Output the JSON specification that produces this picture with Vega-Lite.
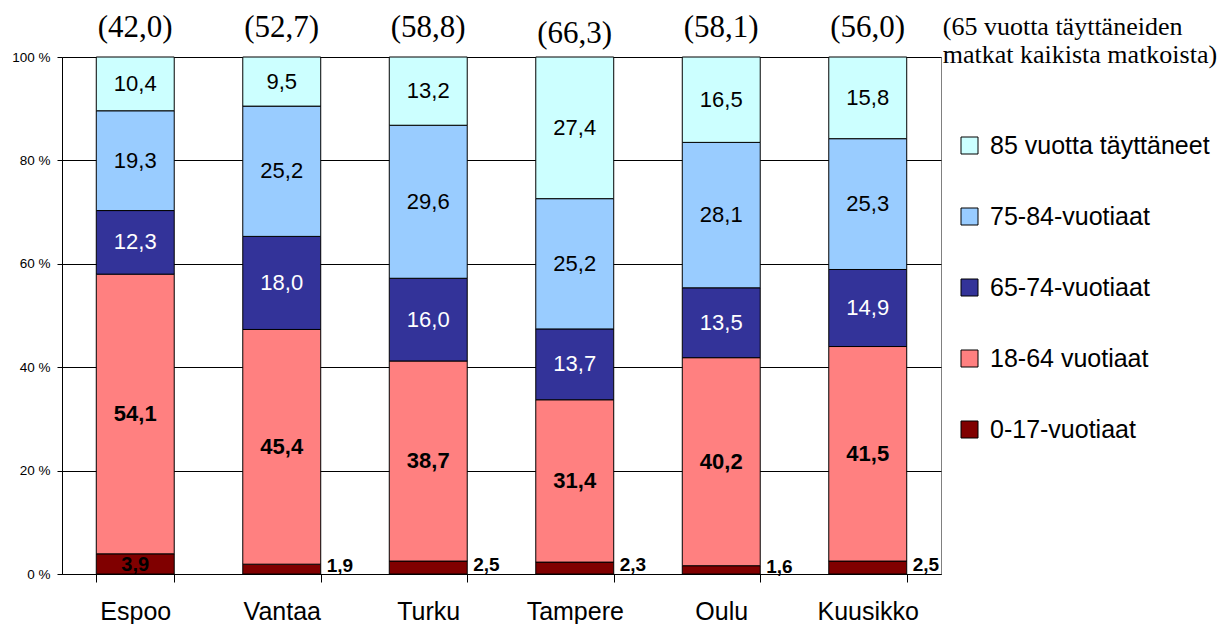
{
  "$schema": "https://vega.github.io/schema/vega-lite/v6.json",
  "width": 879,
  "height": 517,
  "autosize": {"type": "none"},
  "padding": {"left": 62, "top": 57, "right": 288, "bottom": 50},
  "background": "white",
  "config": {
    "view": {"stroke": "#808080", "strokeWidth": 1},
    "font": "Liberation Sans"
  },
  "datasets": {
    "shares": [
      {"city": "Espoo", "group": "0-17-vuotiaat", "ord": 1, "pct": 3.9},
      {"city": "Espoo", "group": "18-64 vuotiaat", "ord": 2, "pct": 54.1},
      {"city": "Espoo", "group": "65-74-vuotiaat", "ord": 3, "pct": 12.3},
      {"city": "Espoo", "group": "75-84-vuotiaat", "ord": 4, "pct": 19.3},
      {"city": "Espoo", "group": "85 vuotta täyttäneet", "ord": 5, "pct": 10.4},
      {"city": "Vantaa", "group": "0-17-vuotiaat", "ord": 1, "pct": 1.9},
      {"city": "Vantaa", "group": "18-64 vuotiaat", "ord": 2, "pct": 45.4},
      {"city": "Vantaa", "group": "65-74-vuotiaat", "ord": 3, "pct": 18.0},
      {"city": "Vantaa", "group": "75-84-vuotiaat", "ord": 4, "pct": 25.2},
      {"city": "Vantaa", "group": "85 vuotta täyttäneet", "ord": 5, "pct": 9.5},
      {"city": "Turku", "group": "0-17-vuotiaat", "ord": 1, "pct": 2.5},
      {"city": "Turku", "group": "18-64 vuotiaat", "ord": 2, "pct": 38.7},
      {"city": "Turku", "group": "65-74-vuotiaat", "ord": 3, "pct": 16.0},
      {"city": "Turku", "group": "75-84-vuotiaat", "ord": 4, "pct": 29.6},
      {"city": "Turku", "group": "85 vuotta täyttäneet", "ord": 5, "pct": 13.2},
      {"city": "Tampere", "group": "0-17-vuotiaat", "ord": 1, "pct": 2.3},
      {"city": "Tampere", "group": "18-64 vuotiaat", "ord": 2, "pct": 31.4},
      {"city": "Tampere", "group": "65-74-vuotiaat", "ord": 3, "pct": 13.7},
      {"city": "Tampere", "group": "75-84-vuotiaat", "ord": 4, "pct": 25.2},
      {"city": "Tampere", "group": "85 vuotta täyttäneet", "ord": 5, "pct": 27.4},
      {"city": "Oulu", "group": "0-17-vuotiaat", "ord": 1, "pct": 1.6},
      {"city": "Oulu", "group": "18-64 vuotiaat", "ord": 2, "pct": 40.2},
      {"city": "Oulu", "group": "65-74-vuotiaat", "ord": 3, "pct": 13.5},
      {"city": "Oulu", "group": "75-84-vuotiaat", "ord": 4, "pct": 28.1},
      {"city": "Oulu", "group": "85 vuotta täyttäneet", "ord": 5, "pct": 16.5},
      {"city": "Kuusikko", "group": "0-17-vuotiaat", "ord": 1, "pct": 2.5},
      {"city": "Kuusikko", "group": "18-64 vuotiaat", "ord": 2, "pct": 41.5},
      {"city": "Kuusikko", "group": "65-74-vuotiaat", "ord": 3, "pct": 14.9},
      {"city": "Kuusikko", "group": "75-84-vuotiaat", "ord": 4, "pct": 25.3},
      {"city": "Kuusikko", "group": "85 vuotta täyttäneet", "ord": 5, "pct": 15.8}
    ],
    "top": [
      {"city": "Espoo", "share65": 42.0},
      {"city": "Vantaa", "share65": 52.7},
      {"city": "Turku", "share65": 58.8},
      {"city": "Tampere", "share65": 66.3},
      {"city": "Oulu", "share65": 58.1},
      {"city": "Kuusikko", "share65": 56.0}
    ]
  },
  "encoding": {
    "x": {
      "field": "city",
      "type": "nominal",
      "scale": {
        "domain": ["Espoo", "Vantaa", "Turku", "Tampere", "Oulu", "Kuusikko"],
        "paddingInner": 0.468,
        "paddingOuter": 0.234
      },
      "axis": {
        "title": null,
        "labelAngle": 0,
        "labelFontSize": 25,
        "labelFont": "Liberation Sans",
        "labelColor": "#000",
        "tickBand": "extent",
        "tickSize": 8,
        "labelPadding": 17,
        "domainColor": "#000",
        "tickColor": "#000"
      }
    }
  },
  "layer": [
    {
      "data": {"name": "shares"},
      "transform": [
        {"stack": "pct", "groupby": ["city"], "sort": [{"field": "ord", "order": "ascending"}], "offset": "normalize", "as": ["y0", "y1"]}
      ],
      "mark": {"type": "bar", "stroke": "#000", "strokeWidth": 1},
      "encoding": {
        "y": {
          "field": "y1",
          "type": "quantitative",
          "scale": {"domain": [0, 1], "nice": false},
          "axis": {
            "title": null,
            "values": [0, 0.2, 0.4, 0.6, 0.8, 1],
            "labelExpr": "format(datum.value*100,'d') + ' %'",
            "grid": true,
            "gridColor": "#000",
            "gridWidth": 1,
            "tickSize": 5,
            "labelPadding": 7,
            "labelFontSize": 13.5,
            "labelFont": "Liberation Sans",
            "labelColor": "#000",
            "domainColor": "#000",
            "tickColor": "#000"
          }
        },
        "y2": {"field": "y0"},
        "color": {
          "field": "group",
          "type": "nominal",
          "scale": {
            "domain": ["85 vuotta täyttäneet", "75-84-vuotiaat", "65-74-vuotiaat", "18-64 vuotiaat", "0-17-vuotiaat"],
            "range": ["#CCFFFF", "#99CCFF", "#333399", "#FF8080", "#800000"]
          },
          "legend": {
            "orient": "none",
            "legendX": 895,
            "legendY": 76,
            "title": null,
            "padding": 0,
            "symbolType": "square",
            "symbolSize": 289,
            "symbolStrokeColor": "#000",
            "symbolStrokeWidth": 1,
            "symbolOpacity": 1,
            "labelFontSize": 25,
            "labelFont": "Liberation Sans",
            "labelColor": "#000",
            "labelOffset": 8,
            "labelLimit": 400,
            "rowPadding": 45,
            "labelExpr": "(datum.label == '85 vuotta täyttäneet' || datum.label == '0-17-vuotiaat') ? ' ' + datum.label : datum.label"
          }
        }
      }
    },
    {
      "data": {"name": "shares"},
      "transform": [
        {"stack": "pct", "groupby": ["city"], "sort": [{"field": "ord", "order": "ascending"}], "offset": "normalize", "as": ["y0", "y1"]},
        {"calculate": "(datum.y0 + datum.y1) / 2", "as": "ymid"},
        {"calculate": "replace(format(datum.pct, '.1f'), '.', ',')", "as": "lbl"},
        {"filter": "datum.ord >= 4"}
      ],
      "mark": {"type": "text", "fontSize": 22, "font": "Liberation Sans", "color": "#000", "baseline": "middle"},
      "encoding": {
        "y": {"field": "ymid", "type": "quantitative"},
        "text": {"field": "lbl"}
      }
    },
    {
      "data": {"name": "shares"},
      "transform": [
        {"stack": "pct", "groupby": ["city"], "sort": [{"field": "ord", "order": "ascending"}], "offset": "normalize", "as": ["y0", "y1"]},
        {"calculate": "(datum.y0 + datum.y1) / 2", "as": "ymid"},
        {"calculate": "replace(format(datum.pct, '.1f'), '.', ',')", "as": "lbl"},
        {"filter": "datum.ord == 3"}
      ],
      "mark": {"type": "text", "fontSize": 22, "font": "Liberation Sans", "color": "#fff", "baseline": "middle"},
      "encoding": {
        "y": {"field": "ymid", "type": "quantitative"},
        "text": {"field": "lbl"}
      }
    },
    {
      "data": {"name": "shares"},
      "transform": [
        {"stack": "pct", "groupby": ["city"], "sort": [{"field": "ord", "order": "ascending"}], "offset": "normalize", "as": ["y0", "y1"]},
        {"calculate": "(datum.y0 + datum.y1) / 2", "as": "ymid"},
        {"calculate": "replace(format(datum.pct, '.1f'), '.', ',')", "as": "lbl"},
        {"filter": "datum.ord == 2"}
      ],
      "mark": {"type": "text", "fontSize": 22, "font": "Liberation Sans", "fontWeight": "bold", "color": "#000", "baseline": "middle"},
      "encoding": {
        "y": {"field": "ymid", "type": "quantitative"},
        "text": {"field": "lbl"}
      }
    },
    {
      "data": {"name": "shares"},
      "transform": [
        {"stack": "pct", "groupby": ["city"], "sort": [{"field": "ord", "order": "ascending"}], "offset": "normalize", "as": ["y0", "y1"]},
        {"calculate": "(datum.y0 + datum.y1) / 2", "as": "ymid"},
        {"calculate": "replace(format(datum.pct, '.1f'), '.', ',')", "as": "lbl"},
        {"filter": "datum.ord == 1 && datum.city == 'Espoo'"}
      ],
      "mark": {"type": "text", "fontSize": 20, "font": "Liberation Sans", "fontWeight": "bold", "color": "#000", "baseline": "middle", "dy": 1},
      "encoding": {
        "y": {"field": "ymid", "type": "quantitative"},
        "text": {"field": "lbl"}
      }
    },
    {
      "data": {"name": "shares"},
      "transform": [
        {"stack": "pct", "groupby": ["city"], "sort": [{"field": "ord", "order": "ascending"}], "offset": "normalize", "as": ["y0", "y1"]},
        {"calculate": "(datum.y0 + datum.y1) / 2", "as": "ymid"},
        {"calculate": "replace(format(datum.pct, '.1f'), '.', ',')", "as": "lbl"},
        {"filter": "datum.ord == 1 && datum.city != 'Espoo'"}
      ],
      "mark": {"type": "text", "fontSize": 19, "font": "Liberation Sans", "fontWeight": "bold", "color": "#000", "baseline": "middle", "align": "left", "dx": 45, "dy": -3},
      "encoding": {
        "y": {"field": "ymid", "type": "quantitative"},
        "text": {"field": "lbl"}
      }
    },
    {
      "data": {"name": "top"},
      "transform": [
        {"calculate": "'(' + replace(format(datum.share65, '.1f'), '.', ',') + ')'", "as": "lbl"},
        {"filter": "datum.city != 'Tampere'"}
      ],
      "mark": {"type": "text", "fontSize": 31, "font": "Liberation Serif", "color": "#000", "baseline": "alphabetic", "dy": -20},
      "encoding": {
        "y": {"datum": 1, "type": "quantitative"},
        "text": {"field": "lbl"}
      }
    },
    {
      "data": {"name": "top"},
      "transform": [
        {"calculate": "'(' + replace(format(datum.share65, '.1f'), '.', ',') + ')'", "as": "lbl"},
        {"filter": "datum.city == 'Tampere'"}
      ],
      "mark": {"type": "text", "fontSize": 31, "font": "Liberation Serif", "color": "#000", "baseline": "alphabetic", "dy": -14},
      "encoding": {
        "y": {"datum": 1, "type": "quantitative"},
        "text": {"field": "lbl"}
      }
    },
    {
      "data": {"values": [{"note": "annotation"}]},
      "mark": {
        "type": "text",
        "text": ["(65 vuotta täyttäneiden", "matkat kaikista matkoista)"],
        "fontSize": 26,
        "font": "Liberation Serif",
        "color": "#000",
        "align": "left",
        "baseline": "alphabetic",
        "lineHeight": 28,
        "dx": 75,
        "dy": -22
      },
      "encoding": {
        "x": {"datum": "Kuusikko", "type": "nominal"},
        "y": {"datum": 1, "type": "quantitative"}
      }
    }
  ]
}
